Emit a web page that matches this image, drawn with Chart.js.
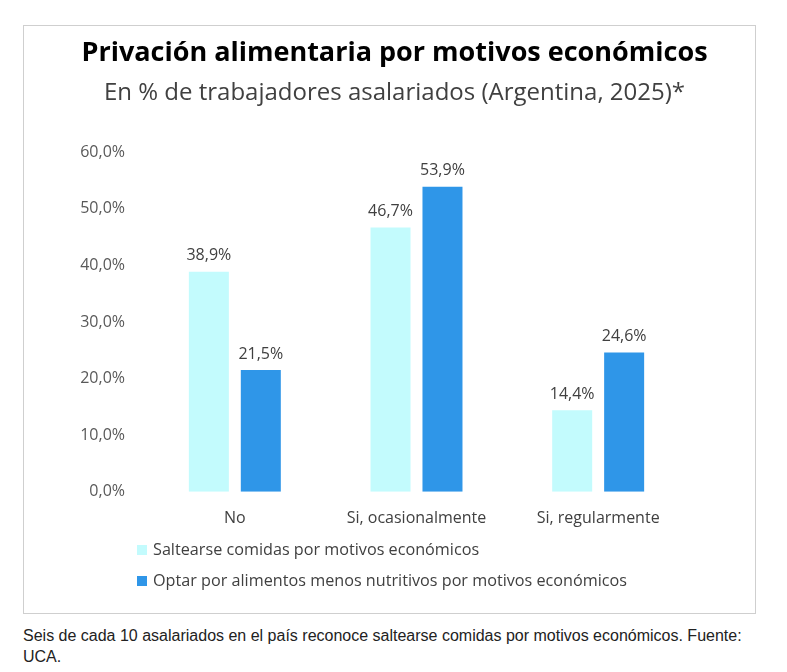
<!DOCTYPE html>
<html>
<head>
<meta charset="utf-8">
<script src="https://cdn.jsdelivr.net/npm/chart.js@4.4.1/dist/chart.umd.min.js"></script>
<style>
  html, body { margin: 0; padding: 0; background: #fff; }
  #box { position: absolute; left: 23px; top: 25px; width: 731px; height: 587px; border: 1px solid #cfcfcf; }
  #wrap { position: absolute; left: 0; top: 0; width: 731px; height: 587px; }
  #caption { position: absolute; left: 23px; top: 625px; width: 764px; font-family: "Liberation Sans", Arial, sans-serif; font-size: 16px; line-height: 21px; color: #222; }
</style>
</head>
<body>
<div id="box"><div id="wrap"><canvas id="c"></canvas></div></div>
<div id="caption">Seis de cada 10 asalariados en el país reconoce saltearse comidas por motivos económicos. Fuente:<br>UCA.</div>
<script>
const categories = ['No', 'Si, ocasionalmente', 'Si, regularmente'];
const seriesNames = ['Saltearse comidas por motivos económicos', 'Optar por alimentos menos nutritivos por motivos económicos'];
const saltearse = [38.9, 46.7, 14.4];
const optar = [21.5, 53.9, 24.6];
const yTicks = [0, 10, 20, 30, 40, 50, 60];
const titleText = 'Privación alimentaria por motivos económicos';
const subtitleText = 'En % de trabajadores asalariados (Argentina, 2025)*';

const FONT = '"Open Sans", "Noto Sans", sans-serif';
const fmt = v => v.toFixed(1).replace('.', ',') + '%';

const valueLabels = {
  id: 'valueLabels',
  afterDatasetsDraw(chart) {
    const ctx = chart.ctx;
    ctx.save();
    ctx.font = '16px ' + FONT;
    ctx.fillStyle = '#404040';
    ctx.textAlign = 'center';
    ctx.textBaseline = 'middle';
    chart.data.datasets.forEach((ds, i) => {
      chart.getDatasetMeta(i).data.forEach((bar, j) => {
        ctx.fillText(fmt(ds.data[j]), bar.x, bar.y - 16);
      });
    });
    ctx.restore();
  }
};

const customLegend = {
  id: 'customLegend',
  afterDraw(chart) {
    const ctx = chart.ctx;
    ctx.save();
    ctx.font = '16.2px ' + FONT;
    ctx.textBaseline = 'middle';
    ctx.textAlign = 'left';
    const x0 = 113, rows = [524, 555];
    chart.data.datasets.forEach((ds, i) => {
      const y = rows[i];
      ctx.fillStyle = ds.backgroundColor;
      ctx.fillRect(x0, y - 5, 10, 10);
      ctx.fillStyle = '#404040';
      ctx.fillText(ds.label, x0 + 16, y);
    });
    ctx.restore();
  }
};

new Chart(document.getElementById('c'), {
  type: 'bar',
  data: {
    labels: categories,
    datasets: [
      { label: seriesNames[0], data: saltearse, backgroundColor: '#C3FBFD', barPercentage: 0.77, categoryPercentage: 0.572 },
      { label: seriesNames[1], data: optar, backgroundColor: '#2F96E8', barPercentage: 0.77, categoryPercentage: 0.572 }
    ]
  },
  options: {
    responsive: true,
    maintainAspectRatio: false,
    animation: false,
    layout: { padding: { left: 10, right: 0, top: 0, bottom: 68 } },
    plugins: {
      legend: { display: false },
      tooltip: { enabled: false },
      title: {
        display: true, text: titleText, color: '#000',
        font: { family: FONT, size: 27, weight: 'bold', lineHeight: 1.2 },
        padding: { top: 11, bottom: 4 }
      },
      subtitle: {
        display: true, text: subtitleText, color: '#404040',
        font: { family: FONT, size: 24, lineHeight: 1.2 },
        padding: { top: 5, bottom: 45 }
      }
    },
    scales: {
      x: {
        grid: { display: false, drawTicks: false, tickLength: 0 },
        border: { display: false },
        ticks: { color: '#404040', font: { family: FONT, size: 16 }, padding: 17 }
      },
      y: {
        min: 0, max: 60,
        afterBuildTicks(scale) { scale.ticks = yTicks.map(v => ({ value: v })); },
        afterFit(scale) { scale.width = 110; },
        grid: { display: false, drawTicks: false, tickLength: 0 },
        border: { display: false },
        ticks: { color: '#595959', font: { family: FONT, size: 16 }, padding: 19, callback: v => fmt(v) }
      },
      yRight: {
        position: 'right',
        min: 0, max: 60,
        afterFit(scale) { scale.width = 66; },
        grid: { display: false, drawTicks: false },
        border: { display: false },
        ticks: { display: false }
      }
    }
  },
  plugins: [valueLabels, customLegend]
});
</script>
</body>
</html>
